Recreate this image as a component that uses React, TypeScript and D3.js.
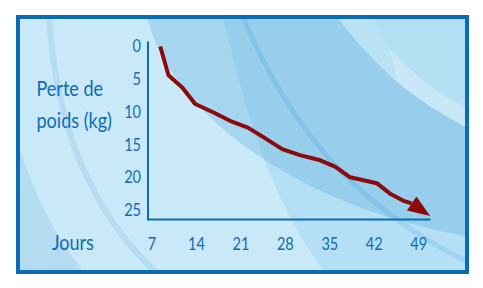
import React from "react";
import * as d3 from "d3";

const days = [8.3, 9.6, 11.8, 13.8, 16.7, 19.6, 22.1, 24.6, 27.5, 30.3, 33.5, 35.9, 38.2, 42.4, 44.5, 46.6, 47.9, 50.8];
const lossKg = [0, 4.4, 6.3, 8.8, 10.1, 11.5, 12.4, 13.9, 15.7, 16.6, 17.4, 18.4, 20.0, 20.9, 22.5, 23.6, 24.0, 25.9];
const xTicks = [7, 14, 21, 28, 35, 42, 49];
const yTicks = [0, 5, 10, 15, 20, 25];
const yTitleLines = ["Perte de", "poids (kg)"];
const xTitle = "Jours";

const W = 483;
const H = 288;
const BLUE = "#0b6cb6";
const TEXT = "#0e6cb5";
const RED = "#8c0a0c";
const FONT = "Lato, 'Open Sans', sans-serif";
const CONDENSE = 0.88;

function Label(props: { x: number; y: number; anchor?: string; size: number; dy?: string; children: React.ReactNode }) {
  return (
    <g transform={`translate(${props.x},${props.y}) scale(${CONDENSE},1)`}>
      <text
        x={0}
        y={0}
        dy={props.dy}
        textAnchor={props.anchor ?? "start"}
        fill={TEXT}
        fontFamily={FONT}
        fontSize={props.size}
      >
        {props.children}
      </text>
    </g>
  );
}

export default function App() {
  const x = d3.scaleLinear().domain([7, 49]).range([152, 418.7]);
  const y = d3.scaleLinear().domain([0, 25]).range([46.5, 210]);

  const pts: [number, number][] = days.map((d, i) => [x(d), y(lossKg[i])]);
  const body = pts.slice(0, pts.length - 1);
  const line = d3.line<[number, number]>().x((p) => p[0]).y((p) => p[1]);

  const tip = pts[pts.length - 1];
  const base = pts[pts.length - 2];
  const dx = tip[0] - base[0];
  const dy = tip[1] - base[1];
  const len = Math.hypot(dx, dy);
  const nx = -dy / len;
  const ny = dx / len;
  const hw = 8.5;
  const arrow = `M${tip[0]},${tip[1]} L${base[0] + nx * hw},${base[1] + ny * hw} L${base[0] - nx * hw},${base[1] - ny * hw} Z`;

  const axisLeft = 148;
  const axisTop = 41.5;
  const axisBottom = 219.5;
  const axisRight = 430.5;

  return (
    <svg width={W} height={H} style={{ position: "absolute", left: 0, top: 0 }}>
      <defs>
        <clipPath id="inner">
          <rect x={20} y={19} width={445} height={251} />
        </clipPath>
      </defs>
      <rect x={0} y={0} width={W} height={H} fill="#ffffff" />
      <g clipPath="url(#inner)">
        <rect x={20} y={19} width={445} height={251} fill="#c9e8f8" />
        {/* lower-left corner shade */}
        <path d="M20,150 Q45,225 84,272 L20,272 Z" fill="#b4dcf1" />
        {/* left stripe */}
        <path d="M49,17 Q60,185 158,274" fill="none" stroke="#b5dcf0" strokeWidth={6} />
        {/* big band A */}
        <path d="M147,17 C170,110 290,205 470,237 L470,17 Z" fill="#a6d6ef" />
        {/* overlay B */}
        <path
          d="M223,17 C245,110 270,200 326,274 L470,274 L470,17 Z"
          fill="#e6f6fb"
          style={{ mixBlendMode: "multiply" }}
        />
        {/* stripe */}
        <path
          d="M243,17 C290,130 360,210 470,263"
          fill="none"
          stroke="#dcf3fc"
          strokeWidth={5}
          style={{ mixBlendMode: "multiply" }}
        />
        {/* top right light */}
        <path d="M337,17 C370,60 410,100 468,128 L468,17 Z" fill="#b4dff3" />
        <path d="M337,17 C365,52 384,70 397,82 C400,72 385,40 373,17 Z" fill="#b9e2f5" />
        <path d="M388,47 C410,72 440,95 468,109 L468,128 C440,113 418,99 397,82 C396,70 392,58 388,47 Z" fill="#c9e8f7" />
      </g>

      {/* frame */}
      <rect x={18} y={17} width={449} height={255} fill="none" stroke={BLUE} strokeWidth={4} />

      {/* axes */}
      <line x1={axisLeft} y1={axisTop} x2={axisLeft} y2={axisBottom} stroke={BLUE} strokeWidth={2} />
      <line x1={axisLeft - 1} y1={axisBottom} x2={axisRight} y2={axisBottom} stroke={BLUE} strokeWidth={2} />

      {/* y tick labels */}
      {yTicks.map((t) => (
        <Label key={t} x={141} y={y(t)} dy="0.36em" anchor="end" size={16.5}>
          {t}
        </Label>
      ))}
      {/* x tick labels */}
      {xTicks.map((t) => (
        <Label key={t} x={x(t)} y={250} anchor="middle" size={16.5}>
          {t}
        </Label>
      ))}

      {/* titles */}
      {yTitleLines.map((s, i) => (
        <Label key={s} x={36.5} y={96 + i * 32} size={20.5}>
          {s}
        </Label>
      ))}
      <Label x={52} y={250} size={20.5}>
        {xTitle}
      </Label>

      {/* data line */}
      <path d={line(body) ?? ""} fill="none" stroke={RED} strokeWidth={4} strokeLinejoin="round" />
      <path d={arrow} fill={RED} />
    </svg>
  );
}
